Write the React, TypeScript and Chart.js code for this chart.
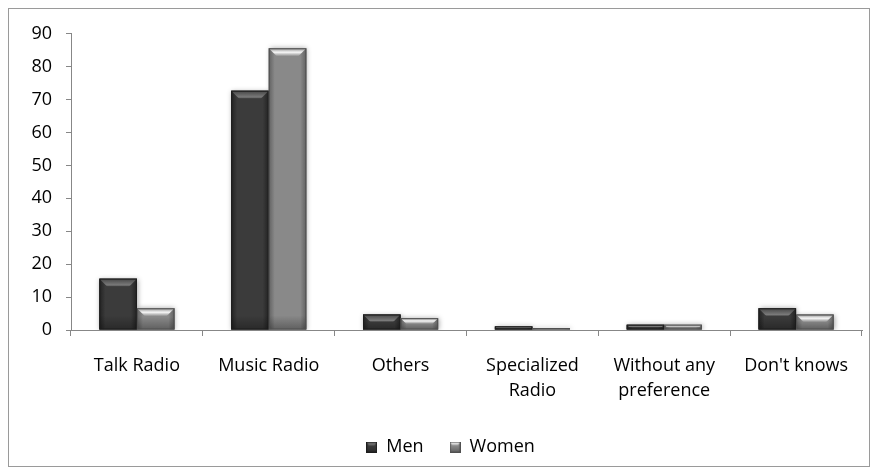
import React, { useEffect, useRef } from "react";
import { Chart, registerables } from "chart.js";

Chart.register(...registerables);

// Preferred radio type by gender (%)
const categories: string[][] = [
  ["Talk Radio"],
  ["Music Radio"],
  ["Others"],
  ["Specialized", "Radio"],
  ["Without any", "preference"],
  ["Don't knows"],
];
const seriesNames = ["Men", "Women"];
const menValues = [15.6, 72.7, 4.7, 1.1, 1.6, 6.6];
const womenValues = [6.6, 85.6, 3.6, 0.6, 1.6, 4.7];
const yTickValues = [0, 10, 20, 30, 40, 50, 60, 70, 80, 90];
const yTickLabels = ["0", "10", "20", "30", "40", "50", "60", "70", "80", "90"];

const FONT = "'Open Sans', 'Noto Sans', sans-serif";
const AXIS = "#878787";

type Shade = {
  edge: string;
  mid: string;
  rim: string;
  glow: string;
  glowAt: number;
  outline: string;
  flat: string;
};

const MEN_SHADE: Shade = {
  edge: "#222222",
  mid: "#3b3b3b",
  rim: "#454545",
  glow: "#7a7a7a",
  glowAt: 0.8,
  outline: "#1d1d1d",
  flat: "#363636",
};
const WOMEN_SHADE: Shade = {
  edge: "#616161",
  mid: "#898989",
  rim: "#8e8e8e",
  glow: "#f6f6f6",
  glowAt: 0.5,
  outline: "#505050",
  flat: "#808080",
};
const shades = [MEN_SHADE, WOMEN_SHADE];

// Paints a bevelled bar face inside the given rectangle.
function paintBevelBar(
  ctx: CanvasRenderingContext2D,
  left: number,
  top: number,
  right: number,
  bottom: number,
  s: Shade,
  bevel: number
) {
  const w = right - left;
  const h = bottom - top;
  if (w <= 0 || h <= 0) return;
  ctx.save();
  const body = ctx.createLinearGradient(left, 0, right, 0);
  body.addColorStop(0, s.edge);
  body.addColorStop(0.16, s.mid);
  body.addColorStop(0.84, s.mid);
  body.addColorStop(1, s.edge);
  ctx.fillStyle = body;
  ctx.fillRect(left, top, w, h);

  // darker foot
  const foot = Math.min(14, h * 0.6);
  if (foot > 1) {
    const fg = ctx.createLinearGradient(0, bottom - foot, 0, bottom);
    fg.addColorStop(0, "rgba(0,0,0,0)");
    fg.addColorStop(1, "rgba(0,0,0,0.3)");
    ctx.fillStyle = fg;
    ctx.fillRect(left, bottom - foot, w, foot);
  }

  // top bevel
  const b = Math.min(bevel, h * 0.5);
  const inset = Math.min(b, w / 4);
  if (b >= 1) {
    const g = ctx.createLinearGradient(0, top, 0, top + b);
    g.addColorStop(0, s.rim);
    g.addColorStop(s.glowAt, s.glow);
    g.addColorStop(1, s.mid);
    ctx.beginPath();
    ctx.moveTo(left, top);
    ctx.lineTo(right, top);
    ctx.lineTo(right - inset, top + b);
    ctx.lineTo(left + inset, top + b);
    ctx.closePath();
    ctx.fillStyle = g;
    ctx.fill();
  }

  ctx.strokeStyle = s.outline;
  ctx.lineWidth = 1;
  ctx.strokeRect(left + 0.5, top + 0.5, w - 1, h - 1);
  ctx.restore();
}

function makeMarker(s: Shade): HTMLCanvasElement {
  const c = document.createElement("canvas");
  c.width = 11;
  c.height = 11;
  const ctx = c.getContext("2d")!;
  paintBevelBar(ctx, 0, 0, 11, 11, s, 4);
  return c;
}

const bevelPlugin = {
  id: "bevelBars",
  afterLayout(chart: any) {
    // the legend sits a little right of the frame's centre
    if (chart.legend) chart.legend.left += 30;
  },
  beforeDatasetsDraw(chart: any) {
    const ctx = chart.ctx;
    ctx.save();
    ctx.shadowColor = "rgba(0,0,0,0.35)";
    ctx.shadowBlur = 5;
    ctx.shadowOffsetX = 1;
    ctx.shadowOffsetY = 0;
  },
  afterDatasetsDraw(chart: any) {
    const ctx = chart.ctx;
    ctx.restore();
    chart.data.datasets.forEach((_: any, i: number) => {
      const meta = chart.getDatasetMeta(i);
      meta.data.forEach((el: any) => {
        const { x, y, base, width } = el.getProps(["x", "y", "base", "width"], true);
        const top = Math.min(y, base);
        const bottom = Math.max(y, base);
        paintBevelBar(ctx, x - width / 2, top, x + width / 2, bottom, shades[i], 8);
      });
    });
  },
};

export default function App() {
  const ref = useRef<HTMLCanvasElement>(null);

  useEffect(() => {
    const canvas = ref.current!;
    const markers = [makeMarker(MEN_SHADE), makeMarker(WOMEN_SHADE)];
    const chart = new Chart(canvas, {
      type: "bar",
      data: {
        labels: categories,
        datasets: [
          {
            label: seriesNames[0],
            data: menValues,
            backgroundColor: MEN_SHADE.flat,
            borderWidth: 0,
            barPercentage: 1,
            categoryPercentage: 0.57,
          },
          {
            label: seriesNames[1],
            data: womenValues,
            backgroundColor: WOMEN_SHADE.flat,
            borderWidth: 0,
            barPercentage: 1,
            categoryPercentage: 0.57,
          },
        ],
      },
      options: {
        animation: false,
        responsive: false,
        layout: { padding: { left: 0, right: 7, top: 13, bottom: 0 } },
        scales: {
          x: {
            offset: true,
            grid: {
              display: true,
              offset: true,
              drawOnChartArea: false,
              drawTicks: true,
              tickLength: 6,
              color: AXIS,
              lineWidth: 1,
            },
            border: { display: true, color: AXIS, width: 1 },
            ticks: {
              color: "#000",
              font: { family: FONT, size: 18, lineHeight: 1.4 },
              padding: 17,
              maxRotation: 0,
              autoSkip: false,
            },
            afterFit: (s: any) => {
              s.height = 82;
            },
          },
          y: {
            min: 0,
            max: 90,
            afterBuildTicks: (s: any) => {
              s.ticks = yTickValues.map((v) => ({ value: v }));
            },
            ticks: {
              color: "#000",
              font: { family: FONT, size: 18, lineHeight: 1.2 },
              padding: 14,
              callback: (v: any) => yTickLabels[yTickValues.indexOf(Number(v))],
            },
            grid: {
              drawOnChartArea: false,
              drawTicks: true,
              tickLength: 5,
              color: AXIS,
              lineWidth: 1,
            },
            border: { display: true, color: AXIS, width: 1 },
            afterFit: (s: any) => {
              s.width = 62;
            },
          },
        },
        plugins: {
          legend: {
            position: "bottom",
            labels: {
              usePointStyle: true,
              boxWidth: 11,
              boxHeight: 11,
              padding: 26,
              color: "#000",
              font: { family: FONT, size: 18 },
              generateLabels: (c: any) =>
                c.data.datasets.map((ds: any, i: number) => ({
                  text: ds.label,
                  pointStyle: markers[i],
                  fillStyle: shades[i].mid,
                  strokeStyle: shades[i].outline,
                  lineWidth: 0,
                  hidden: false,
                  datasetIndex: i,
                })),
            },
          },
          tooltip: { enabled: false },
        },
      },
      plugins: [bevelPlugin],
    } as any);
    return () => chart.destroy();
  }, []);

  return (
    <div
      style={{
        width: 862,
        height: 459,
        border: "1px solid #9a9a9a",
        boxSizing: "border-box",
        background: "#fff",
      }}
    >
      <canvas ref={ref} width={860} height={457} style={{ display: "block" }} />
    </div>
  );
}
